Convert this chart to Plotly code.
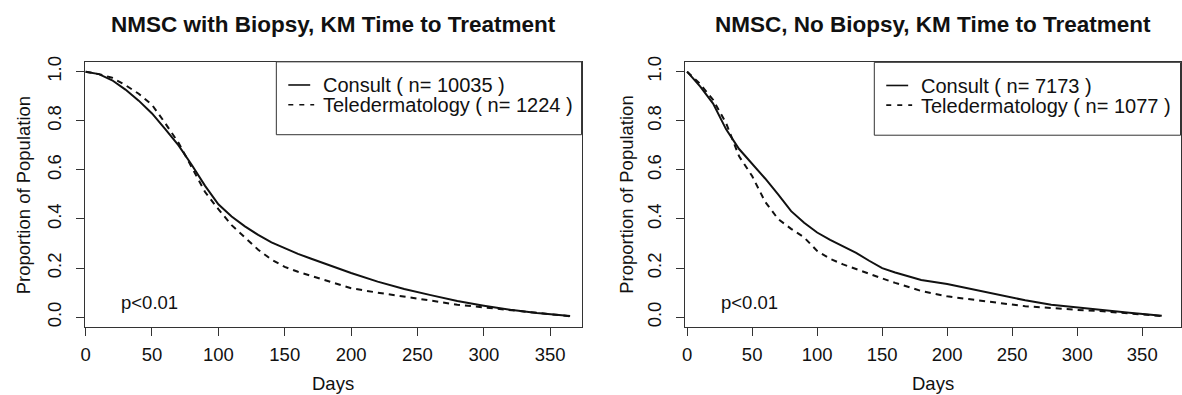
import plotly.graph_objects as go

# ---------------- data ----------------
titles = ["NMSC with Biopsy, KM Time to Treatment", "NMSC, No Biopsy, KM Time to Treatment"]
series_names = ["Consult", "Teledermatology"]
left_n = [10035, 1224]
right_n = [7173, 1077]

left_consult_days = [0, 10, 20, 30, 40, 50, 60, 70, 80, 90, 100, 110, 120, 130, 140, 150, 160,
                     170, 180, 190, 200, 220, 240, 260, 280, 300, 320, 340, 365]
left_consult_prop = [1.0, 0.99, 0.965, 0.927, 0.882, 0.83, 0.766, 0.70, 0.62, 0.535, 0.46, 0.41,
                     0.37, 0.335, 0.305, 0.28, 0.258, 0.238, 0.218, 0.198, 0.18, 0.145, 0.115,
                     0.09, 0.066, 0.047, 0.03, 0.017, 0.005]

left_tele_days = [0, 10, 20, 30, 40, 50, 60, 70, 80, 90, 100, 110, 120, 130, 140, 150, 160,
                  170, 180, 190, 200, 220, 240, 260, 280, 300, 320, 340, 365]
left_tele_prop = [1.0, 0.99, 0.975, 0.945, 0.91, 0.865, 0.79, 0.71, 0.61, 0.51, 0.44, 0.375,
                  0.325, 0.275, 0.235, 0.205, 0.185, 0.168, 0.152, 0.135, 0.118, 0.1, 0.085,
                  0.068, 0.051, 0.04, 0.029, 0.016, 0.004]

right_consult_days = [0, 5, 10, 20, 30, 40, 50, 60, 70, 80, 90, 100, 110, 120, 130, 140, 150,
                      160, 170, 180, 200, 220, 240, 260, 280, 300, 320, 340, 365]
right_consult_prop = [1.0, 0.97, 0.94, 0.87, 0.765, 0.685, 0.625, 0.565, 0.50, 0.432, 0.385,
                      0.345, 0.315, 0.29, 0.262, 0.23, 0.2, 0.182, 0.167, 0.152, 0.135, 0.112,
                      0.09, 0.069, 0.051, 0.039, 0.028, 0.018, 0.006]

right_tele_days = [0, 5, 10, 20, 30, 40, 50, 60, 70, 80, 90, 100, 110, 120, 130, 140, 150,
                   160, 170, 180, 200, 220, 240, 260, 280, 300, 320, 340, 365]
right_tele_prop = [1.0, 0.975, 0.95, 0.885, 0.79, 0.655, 0.575, 0.47, 0.40, 0.36, 0.325, 0.27,
                   0.238, 0.215, 0.195, 0.175, 0.158, 0.14, 0.125, 0.107, 0.085, 0.07, 0.058,
                   0.045, 0.036, 0.03, 0.024, 0.015, 0.005]

x_ticks = [0, 50, 100, 150, 200, 250, 300, 350]
y_ticks = [0.0, 0.2, 0.4, 0.6, 0.8, 1.0]
p_text = "p<0.01"
x_title = "Days"
y_title = "Proportion of Population"

# ---------------- figure ----------------
W, H = 1182, 395
FONT = "Liberation Sans, Arial, Helvetica, sans-serif"
INK = "#111111"
FRAME = "#333333"
FS = 18.5
LEG_FS = 20

fig = go.Figure()

panels = [
    dict(xa="x", ya="y", n=left_n,
         data=[(left_consult_days, left_consult_prop), (left_tele_days, left_tele_prop)]),
    dict(xa="x2", ya="y2", n=right_n,
         data=[(right_consult_days, right_consult_prop), (right_tele_days, right_tele_prop)]),
]
dashes = ["solid", "6px,5px"]
for p in panels:
    for i, (d, v) in enumerate(p["data"]):
        fig.add_trace(go.Scatter(
            x=d, y=v, mode="lines", xaxis=p["xa"], yaxis=p["ya"], showlegend=False,
            name=f"{series_names[i]} ( n= {p['n'][i]} )",
            line=dict(color=INK, width=2, dash=dashes[i]),
            hoverinfo="skip"))

x_domains = [[81.3 / W, 580 / W], [684.3 / W, 1181.5 / W]]
y_domain = [(H - 326) / H, (H - 56.7) / H]
x_ranges = [[-0.5, 373.6], [-1.3, 379.4]]

axis_common = dict(showgrid=False, zeroline=False, showline=True, linecolor=FRAME,
                   linewidth=1, mirror=True, ticks="outside", ticklen=8, tickwidth=1,
                   tickcolor=FRAME, tickfont=dict(family=FONT, size=FS, color=INK))

layout = dict(
    width=W, height=H, paper_bgcolor="white", plot_bgcolor="white",
    margin=dict(l=0, r=0, t=0, b=0), font=dict(family=FONT, color=INK, size=FS),
    showlegend=False,
)
for k, (xd, xr) in enumerate(zip(x_domains, x_ranges)):
    sx = "" if k == 0 else "2"
    layout["xaxis" + sx] = dict(domain=xd, range=xr, tickvals=x_ticks, anchor="y" + sx,
                                ticklabelstandoff=3, **axis_common)
    layout["yaxis" + sx] = dict(domain=y_domain, range=[-0.04, 1.04], tickvals=y_ticks,
                                tickformat=".1f", tickangle=-90, anchor="x" + sx,
                                ticklabelstandoff=8, **axis_common)
fig.update_layout(**layout)

# legend boxes (drawn like R's legend(): framed box at top-right of each panel)
legend_boxes = [(273.5, 56.7), (874.0, 57.2)]   # left edge, top edge in px
LEG_H = 74
shapes = []
ann = []


def px_x(v):
    return v / W


def px_y(v):
    return 1 - v / H


for k in range(2):
    sx = "" if k == 0 else "2"
    xd = x_domains[k]
    right_edge = xd[1] * W
    bx, by = legend_boxes[k]
    shapes.append(dict(type="rect", xref="paper", yref="paper",
                       x0=px_x(bx), x1=px_x(right_edge), y0=px_y(by + LEG_H), y1=px_y(by),
                       line=dict(color=FRAME, width=1), fillcolor="white", layer="above"))
    ns = panels[k]["n"]
    for i in range(2):
        ry = by + 23.5 + 20 * i
        shapes.append(dict(type="line", xref="paper", yref="paper",
                           x0=px_x(bx + 12), x1=px_x(bx + (34 if i == 0 else 38)),
                           y0=px_y(ry), y1=px_y(ry), layer="above",
                           line=dict(color=INK, width=1.6,
                                     dash="solid" if i == 0 else "5px,6px")))
        ann.append(dict(text=f"{series_names[i]} ( n= {ns[i]} )", xref="paper", yref="paper",
                        x=px_x(bx + 44.5), y=px_y(ry + 0.5), xanchor="left", yanchor="middle",
                        showarrow=False, font=dict(family=FONT, size=LEG_FS, color=INK)))

    cx = (xd[0] + xd[1]) / 2
    ann.append(dict(text=f"<b>{titles[k]}</b>", xref="paper", yref="paper", x=cx, y=px_y(19),
                    xanchor="center", yanchor="middle", showarrow=False,
                    font=dict(family=FONT, size=22.5, color=INK)))
    ann.append(dict(text=x_title, xref="paper", yref="paper", x=cx, y=px_y(383),
                    xanchor="center", yanchor="middle", showarrow=False,
                    font=dict(family=FONT, size=FS, color=INK)))
    ann.append(dict(text=y_title, xref="paper", yref="paper",
                    x=px_x(20 if k == 0 else 625), y=(y_domain[0] + y_domain[1]) / 2,
                    xanchor="center", yanchor="middle", textangle=-90, showarrow=False,
                    font=dict(family=FONT, size=FS, color=INK)))
    ann.append(dict(text=p_text, xref="x" + sx, yref="y" + sx, x=48, y=0.06,
                    xanchor="center", yanchor="middle", showarrow=False,
                    font=dict(family=FONT, size=FS, color=INK)))

fig.update_layout(annotations=ann, shapes=shapes)

fig.write_html("out.html", config={"displayModeBar": False, "staticPlot": True},
               post_script="document.body.style.margin='0px';")
